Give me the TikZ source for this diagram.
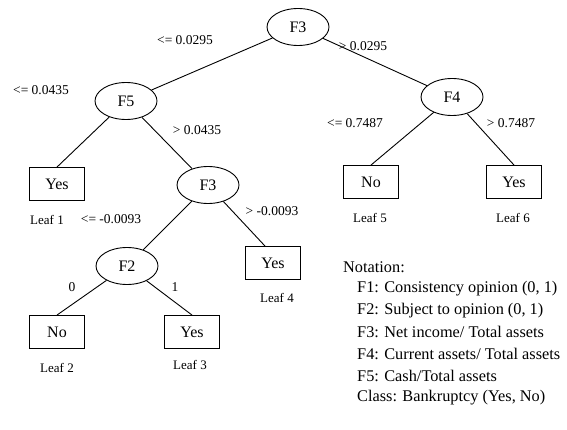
\documentclass[tikz,border=0pt]{standalone}
\usepackage{fontspec}
\setmainfont{Liberation Serif}
\usetikzlibrary{shapes.geometric}
\begin{document}
\begin{tikzpicture}[x=1pt,y=-1pt,
  test/.style={draw,ellipse,line width=0.9pt,minimum width=62pt,minimum height=37pt,inner sep=0pt,font=\fontsize{16}{16}\selectfont},
  leaf/.style={draw,rectangle,line width=0.9pt,minimum width=55pt,minimum height=33pt,inner sep=0pt,font=\fontsize{16}{16}\selectfont},
  lbl/.style={inner sep=0pt,font=\fontsize{13.5}{13.5}\selectfont},
  leaflbl/.style={inner sep=0pt,font=\fontsize{13}{13}\selectfont},
  note/.style={anchor=west,inner sep=0pt,font=\fontsize{16.3}{16.3}\selectfont},
  conn/.style={line width=0.9pt}]
\useasboundingbox (0,0) rectangle (567,430);
% decision nodes
\node[test] (r) at (298,27) {F3};
\node[test] (f5) at (126,101) {F5};
\node[test] (f4) at (452,97) {F4};
\node[test] (f3b) at (208,185) {F3};
\node[test] (f2) at (127,266) {F2};
% leaves
\node[leaf] (l1) at (57,184) {Yes};
\node[leaf] (l2) at (57,332) {No};
\node[leaf] (l3) at (192,332) {Yes};
\node[leaf] (l4) at (273,263) {Yes};
\node[leaf] (l5) at (371,182) {No};
\node[leaf] (l6) at (514,182) {Yes};
% connectors
\draw[conn] (r) -- (f5);
\draw[conn] (r) -- (f4);
\draw[conn] (f5) -- (l1.north);
\draw[conn] (f5) -- (f3b);
\draw[conn] (f3b) -- (f2);
\draw[conn] (f3b) -- ([xshift=-8pt]l4.north);
\draw[conn] (f2) -- (l2.north);
\draw[conn] (f2) -- (l3.north);
\draw[conn] (f4) -- (l5.north);
\draw[conn] (f4) -- (l6.north);
% edge labels
\node[lbl] (e1) at (185,40) {<= 0.0295};
\node[lbl] (e2) at (363,46) {> 0.0295};
\node[lbl] (e3) at (41,90) {<= 0.0435};
\node[lbl] (e4) at (197,130) {> 0.0435};
\node[lbl] (e5) at (355,123) {<= 0.7487};
\node[lbl] (e6) at (511,123) {> 0.7487};
\node[lbl] (e7) at (111,219) {<= -0.0093};
\node[lbl] (e8) at (272,211) {> -0.0093};
\node[lbl] (e9) at (72,287) {0};
\node[lbl] (e10) at (175,287) {1};
% leaf labels
\node[leaflbl] (t1) at (47,220) {Leaf 1};
\node[leaflbl] (t2) at (57,368) {Leaf 2};
\node[leaflbl] (t3) at (190,365) {Leaf 3};
\node[leaflbl] (t4) at (277,298) {Leaf 4};
\node[leaflbl] (t5) at (370,218) {Leaf 5};
\node[leaflbl] (t6) at (513,218) {Leaf 6};
% notation
\node[note] (n0) at (343,267) {Notation:};
\node[note] (n1) at (357,289) {F1: Consistency opinion (0, 1)};
\node[note] (n2) at (357,311) {F2: Subject to opinion (0, 1)};
\node[note] (n3) at (357,332) {F3: Net income/ Total assets};
\node[note] (n4) at (357,354) {F4: Current assets/ Total assets};
\node[note] (n5) at (357,376) {F5: Cash/Total assets};
\node[note] (n6) at (357,398) {Class: Bankruptcy (Yes, No)};
\end{tikzpicture}
\end{document}
